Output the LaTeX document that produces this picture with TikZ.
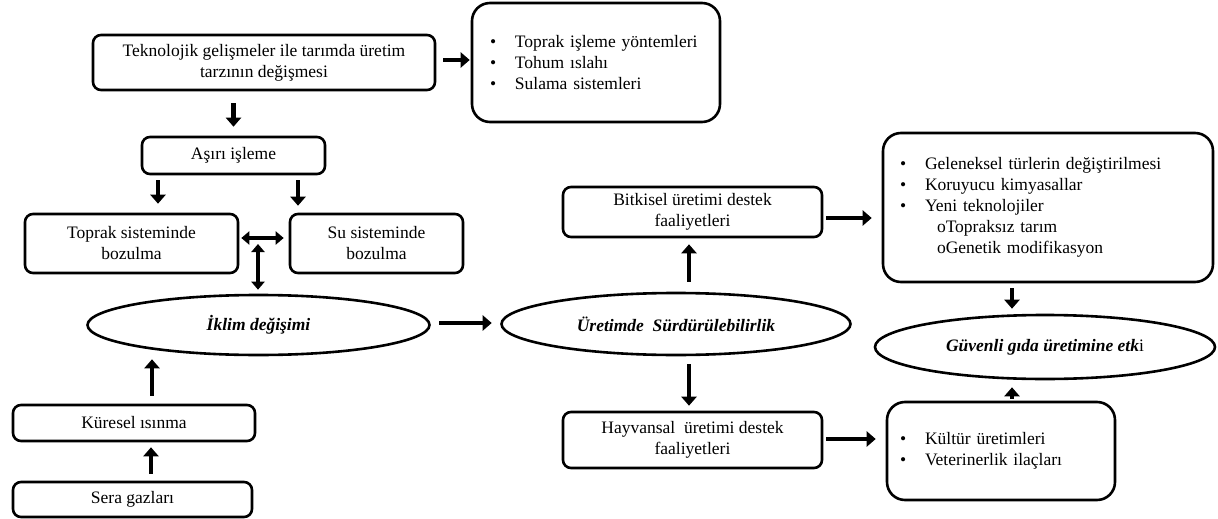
\documentclass[tikz,border=0pt]{standalone}
\usepackage{fontspec}
\setmainfont{Liberation Serif}
\usetikzlibrary{arrows.meta,shapes.geometric,calc}
\newcommand{\mybul}{\makebox[25pt][l]{\textbullet}}
\begin{document}
\begin{tikzpicture}[x=1pt,y=-1pt,
  font=\fontsize{17.5}{21}\selectfont,
  box/.style={draw, line width=2.6pt, rounded corners=8pt, align=center, inner sep=0pt},
  bigbox/.style={draw, line width=2.6pt, rounded corners=18pt, align=left, inner ysep=0pt},
  oval/.style={draw, ellipse, line width=2.6pt, inner sep=0pt, font=\fontsize{17.5}{21}\selectfont\bfseries\itshape},
  arr/.style={line width=4.8pt, -{Triangle[length=9pt,width=15pt]}},
  dbl/.style={line width=4.4pt, {Triangle[length=8pt,width=13pt]}-{Triangle[length=8pt,width=13pt]}},
]
\useasboundingbox (0,0) rectangle (1218,519);

% boxes
\node[box, minimum width=342pt, minimum height=55pt] (A) at (264,62.5)
  {Teknolojik gelişmeler ile tarımda üretim\\tarzının değişmesi};
\node[bigbox, minimum height=119pt, inner xsep=18pt, text width=212pt] (B) at (596,62.5)
  {\mybul Toprak işleme yöntemleri\\\mybul Tohum ıslahı\\\mybul Sulama sistemleri};
\node[box, minimum width=183pt, minimum height=37pt] (asiri) at (233.5,155.5) {Aşırı işleme};
\node[box, minimum width=213pt, minimum height=59pt] (toprak) at (131.5,243.5) {Toprak sisteminde\\bozulma};
\node[box, minimum width=173pt, minimum height=59pt] (su) at (376.5,243.5) {Su sisteminde\\bozulma};
\node[oval, minimum width=342pt, minimum height=60pt] (iklim) at (258.5,325) {İklim değişimi};
\node[box, minimum width=242pt, minimum height=36pt] (kuresel) at (134,423) {Küresel ısınma};
\node[box, minimum width=239pt, minimum height=35pt] (sera) at (132.5,499.5) {Sera gazları};

\node[oval, minimum width=349pt, minimum height=62pt] (uretim) at (676,324) {Üretimde\ \ Sürdürülebilirlik};
\node[box, minimum width=259pt, minimum height=50pt] (bitkisel) at (692.5,212) {Bitkisel üretimi destek\\faaliyetleri};
\node[box, minimum width=259pt, minimum height=56pt] (hayvansal) at (692.5,440) {Hayvansal\ \ üretimi destek\\faaliyetleri};

\node[bigbox, minimum height=149pt, inner xsep=17pt, text width=296pt] (C) at (1048,207.5)
  {\mybul Geleneksel türlerin değiştirilmesi\\\mybul Koruyucu kimyasallar\\\mybul Yeni teknolojiler\\
   \hspace*{37pt}oTopraksız tarım\\\hspace*{37pt}oGenetik modifikasyon};
\node[oval, minimum width=340pt, minimum height=64pt] (guv) at (1045,347)
  {Güvenli gıda üretimine etk{\normalfont i}};
\node[bigbox, minimum height=98pt, inner xsep=13pt, text width=202pt] (D) at (1001,451)
  {\mybul Kültür üretimleri\\\mybul Veterinerlik ilaçları};

\coordinate (dmid) at (258,243);

% connectors
\draw[arr, shorten <=12pt, shorten >=9pt] (asiri.north |- A.south) -- (asiri.north);
\draw[arr, shorten <=7pt, shorten >=1pt] ($(A.east)+(0,-2.5)$) -- ($(A.east -| B.west)+(0,-2.5)$);
\draw[arr, shorten <=5pt, shorten >=9pt] ($(asiri.south)+(-75.5,0)$) -- ($(asiri.south |- toprak.north)+(-75.5,0)$);
\draw[arr, shorten <=5pt, shorten >=7pt] ($(asiri.south)+(64.5,0)$) -- ($(asiri.south |- su.north)+(64.5,0)$);
\draw[dbl, shorten <=2pt, shorten >=5pt] ($(toprak.east)+(0,-5.5)$) -- ($(toprak.east -| su.west)+(0,-5.5)$);
\draw[dbl, shorten <=1pt, shorten >=4pt] (dmid) -- (dmid |- iklim.north);
\draw[arr, shorten <=8.5pt, shorten >=8.5pt] ($(iklim.east)+(0,-2)$) -- ($(iklim.east -| uretim.west)+(0,-2)$);
\draw[arr, shorten <=8pt, shorten >=3pt] ($(kuresel.north)+(18,0)$) -- ($(kuresel.north |- iklim.south)+(18,0)$);
\draw[arr, shorten <=7pt, shorten >=5pt] ($(sera.north)+(18.5,0)$) -- ($(sera.north |- kuresel.south)+(18.5,0)$);

\draw[arr, shorten <=10pt, shorten >=6pt] ($(bitkisel.south |- uretim.north)+(-3.5,0)$) -- ($(bitkisel.south)+(-3.5,0)$);
\draw[arr, shorten <=8pt, shorten >=5pt] ($(hayvansal.north |- uretim.south)+(-3.5,0)$) -- ($(hayvansal.north)+(-3.5,0)$);
\draw[arr, shorten <=3pt, shorten >=10pt] ($(bitkisel.east)+(0,6)$) -- ($(bitkisel.east -| C.west)+(0,6)$);
\draw[arr, shorten <=3pt, shorten >=10pt] ($(hayvansal.east)+(0,-1)$) -- ($(hayvansal.east -| D.west)+(0,-1)$);
\draw[arr, shorten <=5pt, shorten >=5pt] ($(C.south)+(-36,0)$) -- ($(C.south |- guv.north)+(-36,0)$);
\draw[arr, shorten <=2pt, shorten >=7pt] ($(D.north)+(11,0)$) -- ($(D.north |- guv.south)+(11,0)$);
\end{tikzpicture}
\end{document}
